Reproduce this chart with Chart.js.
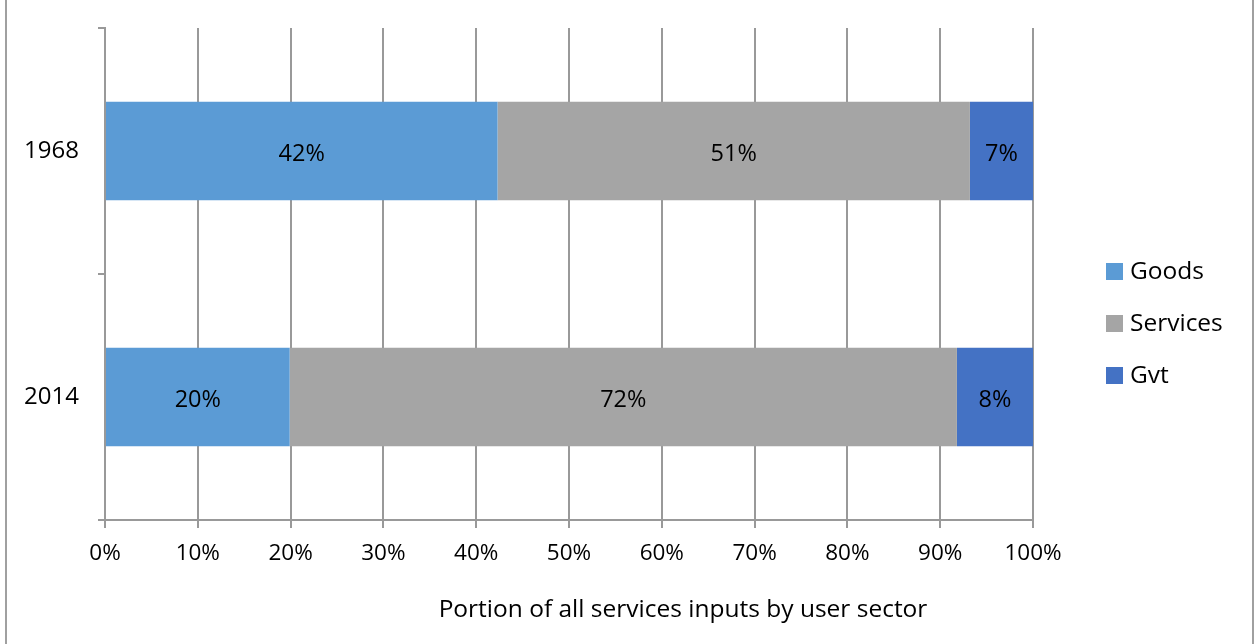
<!DOCTYPE html>
<html>
<head>
<meta charset="utf-8">
<script src="https://cdn.jsdelivr.net/npm/chart.js@4/dist/chart.umd.min.js"></script>
<style>
  html, body { margin: 0; padding: 0; background: #fff; }
  canvas { display: block; }
</style>
</head>
<body>
<canvas id="chart" width="1255" height="644"></canvas>
<script>
const years = ["1968", "2014"];
const goods = [42.3, 19.9];
const services = [50.9, 71.9];
const gvt = [6.8, 8.2];
const xTicks = [0, 10, 20, 30, 40, 50, 60, 70, 80, 90, 100];
const axisTitle = "Portion of all services inputs by user sector";

const FONT = "'Open Sans', sans-serif";
const gridColor = "#999999";

// labels inside the bars, centred on each segment
const barLabels = {
    id: 'barLabels',
    afterDatasetsDraw(chart) {
        const ctx = chart.ctx;
        ctx.save();
        ctx.font = "23.5px " + FONT;
        ctx.fillStyle = "#000";
        ctx.textAlign = "center";
        ctx.textBaseline = "middle";
        chart.data.datasets.forEach((ds, i) => {
            chart.getDatasetMeta(i).data.forEach((bar, j) => {
                const p = bar.getProps(['x', 'y', 'base'], true);
                ctx.fillText(Math.round(ds.data[j]) + "%", (p.x + p.base) / 2, p.y + 3);
            });
        });
        ctx.restore();
    }
};

// legend on the right, axis title and the outer frame
const extras = {
    id: 'extras',
    afterDraw(chart) {
        const ctx = chart.ctx;
        ctx.save();
        ctx.font = "24.5px " + FONT;
        ctx.textBaseline = "middle";
        const legendY = [271, 323, 375];
        chart.data.datasets.forEach((ds, i) => {
            ctx.fillStyle = ds.backgroundColor;
            ctx.fillRect(1106, legendY[i] - 8, 17, 17);
            ctx.fillStyle = "#000";
            ctx.textAlign = "left";
            ctx.fillText(ds.label, 1130, legendY[i] + 1);
        });
        ctx.textAlign = "center";
        ctx.fillText(axisTitle, 683, 610);

        ctx.strokeStyle = "#a0a0a0";
        ctx.lineWidth = 2;
        ctx.beginPath();
        ctx.moveTo(6, 0); ctx.lineTo(6, chart.height);
        ctx.moveTo(1253, 0); ctx.lineTo(1253, chart.height);
        ctx.stroke();
        ctx.restore();
    }
};

new Chart(document.getElementById("chart"), {
    type: 'bar',
    data: {
        labels: years,
        datasets: [
            { label: "Goods", data: goods, backgroundColor: "#5B9BD5" },
            { label: "Services", data: services, backgroundColor: "#A5A5A5" },
            { label: "Gvt", data: gvt, backgroundColor: "#4472C4" }
        ]
    },
    options: {
        indexAxis: 'y',
        responsive: false,
        animation: false,
        barPercentage: 0.4,
        categoryPercentage: 1,
        layout: { padding: { left: 0, top: 28, right: 222, bottom: 0 } },
        plugins: { legend: { display: false }, tooltip: { enabled: false } },
        scales: {
            x: {
                stacked: true,
                min: 0,
                max: 100,
                afterBuildTicks: s => { s.ticks = xTicks.map(v => ({ value: v })); },
                afterFit: s => { s.height = 124; s.paddingLeft = 0; s.paddingRight = 0; },
                ticks: {
                    callback: v => v + "%",
                    color: "#000",
                    font: { family: FONT, size: 22.5 },
                    padding: 12,
                    maxRotation: 0
                },
                grid: { color: gridColor, lineWidth: 2, tickLength: 8 },
                border: { color: gridColor, width: 2 }
            },
            y: {
                stacked: true,
                afterFit: s => { s.width = 105; s.paddingTop = 0; s.paddingBottom = 0; },
                ticks: {
                    color: "#000",
                    font: { family: FONT, size: 24 },
                    padding: 19
                },
                grid: { drawOnChartArea: false, color: gridColor, lineWidth: 2, tickLength: 7, offset: true },
                border: { color: gridColor, width: 2 }
            }
        }
    },
    plugins: [barLabels, extras]
});
</script>
</body>
</html>
